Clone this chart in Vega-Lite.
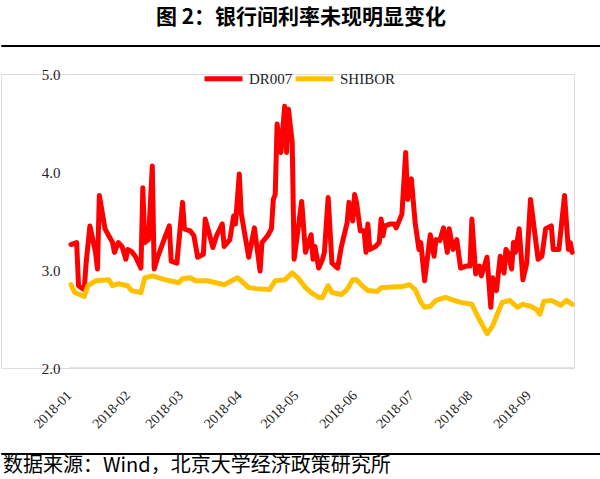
{
  "$schema": "https://vega.github.io/schema/vega-lite/v6.json",
  "background": "white",
  "padding": {"top": 6, "left": 0, "right": 0, "bottom": 0},
  "title": {"text": "图 2：银行间利率未现明显变化", "font": "Noto Sans CJK SC", "fontSize": 21, "fontWeight": "bold", "anchor": "middle", "offset": 17, "color": "#000000"},
  "columns": 1,
  "align": "none",
  "spacing": 9,
  "resolve": {"scale": {"color": "independent"}, "legend": {"color": "independent"}},
  "concat": [
    {
      "width": 600, "height": 1,
      "view": {"stroke": "#000000", "strokeWidth": 1},
      "data": {"values": []},
      "mark": {"type": "rule"},
      "encoding": {}
    },
    {
      "width": 573, "height": 294,
      "layer": [
        {
          "data": {"values": [{}]},
          "mark": {"type": "rule", "color": "#D9D9D9", "strokeWidth": 1.5},
          "encoding": {
            "y": {"datum": 2, "type": "quantitative"},
            "x": {"datum": {"year": 2018, "month": 1, "date": 1, "utc": true}, "type": "temporal"},
            "x2": {"datum": {"year": 2018, "month": 9, "date": 25, "utc": true}}
          }
        },
        {
          "data": {"values": [
            {"date": "2018-01-02", "series": "DR007", "rate": 3.26},
            {"date": "2018-01-05", "series": "DR007", "rate": 3.28},
            {"date": "2018-01-06", "series": "DR007", "rate": 2.84},
            {"date": "2018-01-09", "series": "DR007", "rate": 2.80},
            {"date": "2018-01-10", "series": "DR007", "rate": 3.07},
            {"date": "2018-01-12", "series": "DR007", "rate": 3.45},
            {"date": "2018-01-15", "series": "DR007", "rate": 3.18},
            {"date": "2018-01-16", "series": "DR007", "rate": 3.01},
            {"date": "2018-01-17", "series": "DR007", "rate": 3.76},
            {"date": "2018-01-20", "series": "DR007", "rate": 3.42},
            {"date": "2018-01-22", "series": "DR007", "rate": 3.35},
            {"date": "2018-01-24", "series": "DR007", "rate": 3.28},
            {"date": "2018-01-25", "series": "DR007", "rate": 3.18},
            {"date": "2018-01-27", "series": "DR007", "rate": 3.28},
            {"date": "2018-01-29", "series": "DR007", "rate": 3.24},
            {"date": "2018-01-31", "series": "DR007", "rate": 3.11},
            {"date": "2018-02-01", "series": "DR007", "rate": 3.21},
            {"date": "2018-02-03", "series": "DR007", "rate": 3.19},
            {"date": "2018-02-05", "series": "DR007", "rate": 3.14},
            {"date": "2018-02-08", "series": "DR007", "rate": 3.02},
            {"date": "2018-02-09", "series": "DR007", "rate": 3.84},
            {"date": "2018-02-10", "series": "DR007", "rate": 3.28},
            {"date": "2018-02-12", "series": "DR007", "rate": 3.31},
            {"date": "2018-02-14", "series": "DR007", "rate": 4.06},
            {"date": "2018-02-15", "series": "DR007", "rate": 3.01},
            {"date": "2018-02-17", "series": "DR007", "rate": 3.14},
            {"date": "2018-02-21", "series": "DR007", "rate": 3.35},
            {"date": "2018-02-23", "series": "DR007", "rate": 3.45},
            {"date": "2018-02-24", "series": "DR007", "rate": 3.09},
            {"date": "2018-02-27", "series": "DR007", "rate": 3.07},
            {"date": "2018-03-02", "series": "DR007", "rate": 3.69},
            {"date": "2018-03-03", "series": "DR007", "rate": 3.42},
            {"date": "2018-03-06", "series": "DR007", "rate": 3.40},
            {"date": "2018-03-08", "series": "DR007", "rate": 3.35},
            {"date": "2018-03-10", "series": "DR007", "rate": 3.13},
            {"date": "2018-03-13", "series": "DR007", "rate": 3.16},
            {"date": "2018-03-14", "series": "DR007", "rate": 3.52},
            {"date": "2018-03-16", "series": "DR007", "rate": 3.38},
            {"date": "2018-03-18", "series": "DR007", "rate": 3.23},
            {"date": "2018-03-20", "series": "DR007", "rate": 3.35},
            {"date": "2018-03-23", "series": "DR007", "rate": 3.47},
            {"date": "2018-03-24", "series": "DR007", "rate": 3.24},
            {"date": "2018-03-27", "series": "DR007", "rate": 3.31},
            {"date": "2018-03-29", "series": "DR007", "rate": 3.55},
            {"date": "2018-03-30", "series": "DR007", "rate": 3.47},
            {"date": "2018-04-01", "series": "DR007", "rate": 3.98},
            {"date": "2018-04-02", "series": "DR007", "rate": 3.58},
            {"date": "2018-04-06", "series": "DR007", "rate": 3.13},
            {"date": "2018-04-09", "series": "DR007", "rate": 3.43},
            {"date": "2018-04-12", "series": "DR007", "rate": 2.99},
            {"date": "2018-04-13", "series": "DR007", "rate": 3.28},
            {"date": "2018-04-16", "series": "DR007", "rate": 3.35},
            {"date": "2018-04-18", "series": "DR007", "rate": 3.42},
            {"date": "2018-04-19", "series": "DR007", "rate": 3.72},
            {"date": "2018-04-20", "series": "DR007", "rate": 3.77},
            {"date": "2018-04-21", "series": "DR007", "rate": 4.49},
            {"date": "2018-04-23", "series": "DR007", "rate": 4.20},
            {"date": "2018-04-25", "series": "DR007", "rate": 4.67},
            {"date": "2018-04-26", "series": "DR007", "rate": 4.20},
            {"date": "2018-04-27", "series": "DR007", "rate": 4.64},
            {"date": "2018-04-29", "series": "DR007", "rate": 4.30},
            {"date": "2018-04-30", "series": "DR007", "rate": 3.11},
            {"date": "2018-05-04", "series": "DR007", "rate": 3.70},
            {"date": "2018-05-06", "series": "DR007", "rate": 3.18},
            {"date": "2018-05-09", "series": "DR007", "rate": 3.36},
            {"date": "2018-05-10", "series": "DR007", "rate": 3.11},
            {"date": "2018-05-11", "series": "DR007", "rate": 3.24},
            {"date": "2018-05-13", "series": "DR007", "rate": 3.02},
            {"date": "2018-05-15", "series": "DR007", "rate": 3.11},
            {"date": "2018-05-16", "series": "DR007", "rate": 3.18},
            {"date": "2018-05-18", "series": "DR007", "rate": 3.74},
            {"date": "2018-05-20", "series": "DR007", "rate": 3.07},
            {"date": "2018-05-23", "series": "DR007", "rate": 3.02},
            {"date": "2018-05-25", "series": "DR007", "rate": 3.24},
            {"date": "2018-05-28", "series": "DR007", "rate": 3.48},
            {"date": "2018-05-29", "series": "DR007", "rate": 3.69},
            {"date": "2018-05-31", "series": "DR007", "rate": 3.50},
            {"date": "2018-06-01", "series": "DR007", "rate": 3.77},
            {"date": "2018-06-02", "series": "DR007", "rate": 3.69},
            {"date": "2018-06-04", "series": "DR007", "rate": 3.40},
            {"date": "2018-06-06", "series": "DR007", "rate": 3.40},
            {"date": "2018-06-07", "series": "DR007", "rate": 3.18},
            {"date": "2018-06-08", "series": "DR007", "rate": 3.47},
            {"date": "2018-06-09", "series": "DR007", "rate": 3.21},
            {"date": "2018-06-12", "series": "DR007", "rate": 3.24},
            {"date": "2018-06-14", "series": "DR007", "rate": 3.28},
            {"date": "2018-06-15", "series": "DR007", "rate": 3.52},
            {"date": "2018-06-16", "series": "DR007", "rate": 3.35},
            {"date": "2018-06-17", "series": "DR007", "rate": 3.45},
            {"date": "2018-06-20", "series": "DR007", "rate": 3.47},
            {"date": "2018-06-22", "series": "DR007", "rate": 3.47},
            {"date": "2018-06-23", "series": "DR007", "rate": 3.43},
            {"date": "2018-06-26", "series": "DR007", "rate": 3.57},
            {"date": "2018-06-28", "series": "DR007", "rate": 4.20},
            {"date": "2018-06-29", "series": "DR007", "rate": 3.72},
            {"date": "2018-07-01", "series": "DR007", "rate": 3.93},
            {"date": "2018-07-03", "series": "DR007", "rate": 3.48},
            {"date": "2018-07-05", "series": "DR007", "rate": 3.21},
            {"date": "2018-07-06", "series": "DR007", "rate": 3.28},
            {"date": "2018-07-08", "series": "DR007", "rate": 2.89},
            {"date": "2018-07-11", "series": "DR007", "rate": 3.36},
            {"date": "2018-07-13", "series": "DR007", "rate": 3.14},
            {"date": "2018-07-14", "series": "DR007", "rate": 3.31},
            {"date": "2018-07-16", "series": "DR007", "rate": 3.30},
            {"date": "2018-07-18", "series": "DR007", "rate": 3.43},
            {"date": "2018-07-20", "series": "DR007", "rate": 3.18},
            {"date": "2018-07-21", "series": "DR007", "rate": 3.42},
            {"date": "2018-07-23", "series": "DR007", "rate": 3.21},
            {"date": "2018-07-25", "series": "DR007", "rate": 3.31},
            {"date": "2018-07-27", "series": "DR007", "rate": 3.02},
            {"date": "2018-07-30", "series": "DR007", "rate": 3.04},
            {"date": "2018-08-01", "series": "DR007", "rate": 3.04},
            {"date": "2018-08-02", "series": "DR007", "rate": 3.52},
            {"date": "2018-08-04", "series": "DR007", "rate": 2.96},
            {"date": "2018-08-06", "series": "DR007", "rate": 3.04},
            {"date": "2018-08-07", "series": "DR007", "rate": 2.94},
            {"date": "2018-08-10", "series": "DR007", "rate": 3.13},
            {"date": "2018-08-12", "series": "DR007", "rate": 2.62},
            {"date": "2018-08-13", "series": "DR007", "rate": 2.92},
            {"date": "2018-08-15", "series": "DR007", "rate": 2.79},
            {"date": "2018-08-17", "series": "DR007", "rate": 3.14},
            {"date": "2018-08-19", "series": "DR007", "rate": 2.97},
            {"date": "2018-08-20", "series": "DR007", "rate": 3.21},
            {"date": "2018-08-21", "series": "DR007", "rate": 3.18},
            {"date": "2018-08-23", "series": "DR007", "rate": 3.01},
            {"date": "2018-08-24", "series": "DR007", "rate": 3.28},
            {"date": "2018-08-25", "series": "DR007", "rate": 3.18},
            {"date": "2018-08-27", "series": "DR007", "rate": 3.42},
            {"date": "2018-08-29", "series": "DR007", "rate": 2.90},
            {"date": "2018-08-31", "series": "DR007", "rate": 3.07},
            {"date": "2018-09-02", "series": "DR007", "rate": 3.72},
            {"date": "2018-09-06", "series": "DR007", "rate": 3.11},
            {"date": "2018-09-08", "series": "DR007", "rate": 3.14},
            {"date": "2018-09-10", "series": "DR007", "rate": 3.42},
            {"date": "2018-09-13", "series": "DR007", "rate": 3.45},
            {"date": "2018-09-14", "series": "DR007", "rate": 3.21},
            {"date": "2018-09-17", "series": "DR007", "rate": 3.21},
            {"date": "2018-09-20", "series": "DR007", "rate": 3.76},
            {"date": "2018-09-22", "series": "DR007", "rate": 3.21},
            {"date": "2018-09-23", "series": "DR007", "rate": 3.28},
            {"date": "2018-09-24", "series": "DR007", "rate": 3.18},
            {"date": "2018-01-02", "series": "SHIBOR", "rate": 2.85},
            {"date": "2018-01-04", "series": "SHIBOR", "rate": 2.77},
            {"date": "2018-01-09", "series": "SHIBOR", "rate": 2.73},
            {"date": "2018-01-11", "series": "SHIBOR", "rate": 2.84},
            {"date": "2018-01-15", "series": "SHIBOR", "rate": 2.89},
            {"date": "2018-01-22", "series": "SHIBOR", "rate": 2.90},
            {"date": "2018-01-24", "series": "SHIBOR", "rate": 2.84},
            {"date": "2018-01-27", "series": "SHIBOR", "rate": 2.86},
            {"date": "2018-02-01", "series": "SHIBOR", "rate": 2.84},
            {"date": "2018-02-03", "series": "SHIBOR", "rate": 2.79},
            {"date": "2018-02-08", "series": "SHIBOR", "rate": 2.77},
            {"date": "2018-02-10", "series": "SHIBOR", "rate": 2.92},
            {"date": "2018-02-14", "series": "SHIBOR", "rate": 2.94},
            {"date": "2018-02-21", "series": "SHIBOR", "rate": 2.90},
            {"date": "2018-02-28", "series": "SHIBOR", "rate": 2.87},
            {"date": "2018-03-02", "series": "SHIBOR", "rate": 2.91},
            {"date": "2018-03-06", "series": "SHIBOR", "rate": 2.92},
            {"date": "2018-03-09", "series": "SHIBOR", "rate": 2.89},
            {"date": "2018-03-15", "series": "SHIBOR", "rate": 2.89},
            {"date": "2018-03-24", "series": "SHIBOR", "rate": 2.85},
            {"date": "2018-03-31", "series": "SHIBOR", "rate": 2.92},
            {"date": "2018-04-02", "series": "SHIBOR", "rate": 2.89},
            {"date": "2018-04-06", "series": "SHIBOR", "rate": 2.82},
            {"date": "2018-04-10", "series": "SHIBOR", "rate": 2.81},
            {"date": "2018-04-17", "series": "SHIBOR", "rate": 2.80},
            {"date": "2018-04-20", "series": "SHIBOR", "rate": 2.89},
            {"date": "2018-04-25", "series": "SHIBOR", "rate": 2.90},
            {"date": "2018-04-29", "series": "SHIBOR", "rate": 2.97},
            {"date": "2018-05-02", "series": "SHIBOR", "rate": 2.92},
            {"date": "2018-05-06", "series": "SHIBOR", "rate": 2.82},
            {"date": "2018-05-09", "series": "SHIBOR", "rate": 2.77},
            {"date": "2018-05-13", "series": "SHIBOR", "rate": 2.72},
            {"date": "2018-05-15", "series": "SHIBOR", "rate": 2.72},
            {"date": "2018-05-18", "series": "SHIBOR", "rate": 2.84},
            {"date": "2018-05-20", "series": "SHIBOR", "rate": 2.77},
            {"date": "2018-05-25", "series": "SHIBOR", "rate": 2.75},
            {"date": "2018-05-28", "series": "SHIBOR", "rate": 2.80},
            {"date": "2018-05-31", "series": "SHIBOR", "rate": 2.90},
            {"date": "2018-06-02", "series": "SHIBOR", "rate": 2.90},
            {"date": "2018-06-05", "series": "SHIBOR", "rate": 2.84},
            {"date": "2018-06-08", "series": "SHIBOR", "rate": 2.79},
            {"date": "2018-06-13", "series": "SHIBOR", "rate": 2.78},
            {"date": "2018-06-15", "series": "SHIBOR", "rate": 2.82},
            {"date": "2018-06-23", "series": "SHIBOR", "rate": 2.83},
            {"date": "2018-06-26", "series": "SHIBOR", "rate": 2.83},
            {"date": "2018-06-30", "series": "SHIBOR", "rate": 2.85},
            {"date": "2018-07-03", "series": "SHIBOR", "rate": 2.80},
            {"date": "2018-07-06", "series": "SHIBOR", "rate": 2.67},
            {"date": "2018-07-08", "series": "SHIBOR", "rate": 2.62},
            {"date": "2018-07-11", "series": "SHIBOR", "rate": 2.63},
            {"date": "2018-07-14", "series": "SHIBOR", "rate": 2.69},
            {"date": "2018-07-19", "series": "SHIBOR", "rate": 2.72},
            {"date": "2018-07-22", "series": "SHIBOR", "rate": 2.70},
            {"date": "2018-07-27", "series": "SHIBOR", "rate": 2.67},
            {"date": "2018-08-02", "series": "SHIBOR", "rate": 2.65},
            {"date": "2018-08-05", "series": "SHIBOR", "rate": 2.53},
            {"date": "2018-08-07", "series": "SHIBOR", "rate": 2.46},
            {"date": "2018-08-10", "series": "SHIBOR", "rate": 2.35},
            {"date": "2018-08-13", "series": "SHIBOR", "rate": 2.43},
            {"date": "2018-08-15", "series": "SHIBOR", "rate": 2.53},
            {"date": "2018-08-18", "series": "SHIBOR", "rate": 2.67},
            {"date": "2018-08-22", "series": "SHIBOR", "rate": 2.69},
            {"date": "2018-08-26", "series": "SHIBOR", "rate": 2.62},
            {"date": "2018-08-29", "series": "SHIBOR", "rate": 2.65},
            {"date": "2018-09-02", "series": "SHIBOR", "rate": 2.63},
            {"date": "2018-09-05", "series": "SHIBOR", "rate": 2.60},
            {"date": "2018-09-07", "series": "SHIBOR", "rate": 2.55},
            {"date": "2018-09-09", "series": "SHIBOR", "rate": 2.68},
            {"date": "2018-09-13", "series": "SHIBOR", "rate": 2.69},
            {"date": "2018-09-15", "series": "SHIBOR", "rate": 2.67},
            {"date": "2018-09-18", "series": "SHIBOR", "rate": 2.64},
            {"date": "2018-09-21", "series": "SHIBOR", "rate": 2.69},
            {"date": "2018-09-24", "series": "SHIBOR", "rate": 2.65}
          ]},
          "mark": {"type": "line", "strokeWidth": 5, "strokeJoin": "round", "strokeCap": "round"},
          "encoding": {
            "x": {"field": "date", "type": "temporal"},
            "y": {"field": "rate", "type": "quantitative"},
            "color": {
              "field": "series", "type": "nominal",
              "scale": {"domain": ["DR007", "SHIBOR"], "range": ["#FF0000", "#FFC000"]},
              "legend": {"title": null, "orient": "none", "legendX": 201, "legendY": -17, "direction": "horizontal", "symbolType": "stroke", "symbolSize": 1444, "symbolStrokeWidth": 5, "labelFont": "Liberation Serif", "labelFontSize": 15, "labelColor": "#222222", "labelOffset": 4, "columnPadding": -14}
            }
          }
        }
      ],
      "encoding": {
        "x": {
          "type": "temporal",
          "scale": {"type": "utc", "domain": [{"year": 2017, "month": 11, "date": 26, "utc": true}, {"year": 2018, "month": 9, "date": 25, "utc": true}]},
          "axis": {"title": null, "format": "%Y-%m", "values": [
            {"year": 2018, "month": 1, "date": 1, "utc": true},
            {"year": 2018, "month": 2, "date": 1, "utc": true},
            {"year": 2018, "month": 3, "date": 1, "utc": true},
            {"year": 2018, "month": 4, "date": 1, "utc": true},
            {"year": 2018, "month": 5, "date": 1, "utc": true},
            {"year": 2018, "month": 6, "date": 1, "utc": true},
            {"year": 2018, "month": 7, "date": 1, "utc": true},
            {"year": 2018, "month": 8, "date": 1, "utc": true},
            {"year": 2018, "month": 9, "date": 1, "utc": true}
          ], "labelAngle": -45, "labelAlign": "right", "labelBaseline": "middle", "labelPadding": 25, "ticks": false, "grid": false, "domain": false, "labelFont": "Liberation Serif", "labelFontSize": 14, "labelColor": "#222222", "labelOverlap": false, "labelFlush": false, "minExtent": 74}
        },
        "y": {
          "type": "quantitative",
          "scale": {"domain": [2, 5], "nice": false, "zero": false},
          "axis": {"title": null, "values": [2, 3, 4, 5], "format": ".1f", "ticks": false, "domain": false, "grid": false, "offset": -69, "labelPadding": 10, "labelFont": "Liberation Serif", "labelFontSize": 15, "labelColor": "#222222"}
        }
      }
    },
    {
      "width": 600, "height": 1,
      "view": {"stroke": "#000000", "strokeWidth": 1},
      "title": {"text": "数据来源：Wind，北京大学经济政策研究所", "orient": "bottom", "anchor": "start", "font": "Noto Sans CJK SC", "fontSize": 20, "fontWeight": "normal", "offset": 2, "dx": 2, "color": "#000000", "baseline": "top"},
      "data": {"values": []},
      "mark": {"type": "rule"},
      "encoding": {}
    }
  ]
}
